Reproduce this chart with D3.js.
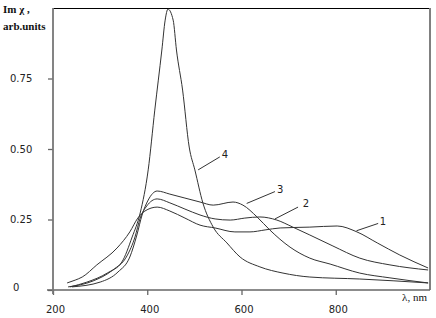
<!DOCTYPE html>
<html>
<head>
<meta charset="utf-8">
<script src="https://cdn.jsdelivr.net/npm/d3@7"></script>
<style>
  body { margin: 0; background: #fff; }
  svg { display: block; }
</style>
</head>
<body>
<div id="chart"></div>
<script>
// wavelengths (nm) and Im chi values
const wl1 = [230, 247, 262, 293, 336, 363, 380, 395, 421, 448, 480, 512, 544, 586, 618, 650, 682, 745, 803, 845, 888, 936, 996];
const im1 = [0.025, 0.035, 0.046, 0.089, 0.149, 0.206, 0.255, 0.280, 0.294, 0.280, 0.255, 0.230, 0.220, 0.206, 0.206, 0.213, 0.220, 0.223, 0.227, 0.206, 0.167, 0.124, 0.078];

const wl2 = [232, 285, 327, 357, 374, 385, 399, 421, 448, 480, 512, 544, 576, 607, 639, 675, 709, 745, 794, 851, 915, 996];
const im2 = [0.011, 0.032, 0.071, 0.121, 0.188, 0.255, 0.298, 0.323, 0.309, 0.287, 0.266, 0.252, 0.248, 0.255, 0.259, 0.248, 0.223, 0.195, 0.156, 0.113, 0.089, 0.071];

const wl3 = [240, 300, 338, 363, 378, 389, 402, 421, 448, 480, 512, 540, 582, 603, 633, 660, 703, 745, 788, 851, 915, 996];
const im3 = [0.011, 0.028, 0.064, 0.117, 0.195, 0.266, 0.319, 0.351, 0.340, 0.326, 0.312, 0.301, 0.312, 0.301, 0.259, 0.213, 0.152, 0.113, 0.092, 0.060, 0.043, 0.025];

const wl4 = [236, 272, 315, 346, 368, 385, 402, 416, 431, 438, 444, 455, 462, 475, 489, 501, 518, 540, 569, 597, 639, 688, 745, 851, 996];
const im4 = [0.011, 0.028, 0.060, 0.099, 0.188, 0.273, 0.426, 0.638, 0.851, 0.957, 0.996, 0.957, 0.851, 0.709, 0.507, 0.426, 0.309, 0.223, 0.167, 0.117, 0.082, 0.060, 0.046, 0.039, 0.025];

const seriesNames = ["1", "2", "3", "4"];
const xTicks = [200, 400, 600, 800];
const yTicks = [0, 0.25, 0.5, 0.75];
const yTickLabels = ["0", "0.25", "0.50", "0.75"];

// curve labels: text baseline point and leader line, in data units
const labelText = ["1", "2", "3", "4"];
const labelAt = [[900, 0.232], [737, 0.293], [682, 0.343], [565, 0.468]];
const leaderFrom = [[844, 0.210], [671, 0.252], [611, 0.307], [508, 0.426]];
const leaderTo = [[890, 0.236], [720, 0.294], [671, 0.349], [554, 0.472]];

const W = 436, H = 318;
const margin = { top: 8, right: 6, bottom: 28, left: 53 };
const width = W - margin.left - margin.right;
const height = H - margin.top - margin.bottom;

const svg = d3.select("#chart")
  .append("svg")
  .attr("width", W)
  .attr("height", H);

const g = svg.append("g")
  .attr("transform", `translate(${margin.left},${margin.top})`);

const x = d3.scaleLinear().domain([200, 1000]).range([0, width]);
const y = d3.scaleLinear().domain([0, 1]).range([height, 0]);

// frame: black top, grey right
g.append("line")
  .attr("x1", 0).attr("x2", width)
  .attr("y1", 0.5).attr("y2", 0.5)
  .attr("stroke", "#000").attr("stroke-width", 1.2);
g.append("line")
  .attr("x1", width).attr("x2", width)
  .attr("y1", 0).attr("y2", height)
  .attr("stroke", "#808080").attr("stroke-width", 2);

// axes
const xAxis = g.append("g")
  .attr("transform", `translate(0,${height})`)
  .call(d3.axisBottom(x).tickValues(xTicks).tickSize(5).tickFormat(d3.format("d")));
const yAxis = g.append("g")
  .call(d3.axisLeft(y).tickValues(yTicks).tickSize(5).tickFormat((d, i) => yTickLabels[i]));

[xAxis, yAxis].forEach(a => {
  a.select(".domain").remove();
  a.selectAll("line").attr("stroke", "#666").attr("stroke-width", 1.3);
  a.selectAll("text")
    .attr("fill", "#222")
    .style("font-family", "'DejaVu Sans', sans-serif")
    .style("font-size", "10px");
});
xAxis.selectAll("text").attr("dy", "1.45em").attr("dx", 2);
yAxis.selectAll("text")
  .attr("text-anchor", "start")
  .attr("x", -43)
  .attr("dy", "0.32em");
yAxis.selectAll(".tick").filter(d => d === 0).select("text").attr("x", -40).attr("dy", "0.05em");

// axis lines
g.append("line")
  .attr("x1", -6).attr("x2", width)
  .attr("y1", height).attr("y2", height)
  .attr("stroke", "#666").attr("stroke-width", 1.5);
g.append("line")
  .attr("x1", 0).attr("x2", 0)
  .attr("y1", 0).attr("y2", height + 4)
  .attr("stroke", "#777").attr("stroke-width", 1.8);

// series
const series = [
  { wl: wl1, im: im1 },
  { wl: wl2, im: im2 },
  { wl: wl3, im: im3 },
  { wl: wl4, im: im4 }
];

const line = d3.line()
  .x(d => x(d[0]))
  .y(d => y(d[1]))
  .curve(d3.curveMonotoneX);

g.selectAll(".curve")
  .data(series)
  .enter()
  .append("path")
  .attr("class", "curve")
  .attr("fill", "none")
  .attr("stroke", "#333")
  .attr("stroke-width", 1)
  .attr("d", s => line(s.wl.map((w, i) => [w, s.im[i]])));

// leader lines and numbers
g.selectAll(".leader")
  .data(seriesNames)
  .enter()
  .append("line")
  .attr("class", "leader")
  .attr("x1", (d, i) => x(leaderFrom[i][0]))
  .attr("y1", (d, i) => y(leaderFrom[i][1]))
  .attr("x2", (d, i) => x(leaderTo[i][0]))
  .attr("y2", (d, i) => y(leaderTo[i][1]))
  .attr("stroke", "#333")
  .attr("stroke-width", 1);

g.selectAll(".clabel")
  .data(seriesNames)
  .enter()
  .append("text")
  .attr("class", "clabel")
  .attr("x", (d, i) => x(labelAt[i][0]))
  .attr("y", (d, i) => y(labelAt[i][1]))
  .attr("text-anchor", "middle")
  .style("font-family", "'DejaVu Sans', sans-serif")
  .style("font-size", "10px")
  .attr("fill", "#222")
  .text((d, i) => labelText[i]);

// axis titles
svg.append("text")
  .attr("x", 3).attr("y", 13)
  .style("font-family", "'Liberation Serif', serif")
  .style("font-size", "11px")
  .style("font-weight", "bold")
  .attr("fill", "#111")
  .text("Im χ ,");
svg.append("text")
  .attr("x", 3).attr("y", 30)
  .style("font-family", "'Liberation Serif', serif")
  .style("font-size", "11px")
  .style("font-weight", "bold")
  .attr("fill", "#111")
  .text("arb.units");
svg.append("text")
  .attr("x", 427).attr("y", 301)
  .attr("text-anchor", "end")
  .style("font-family", "'Liberation Serif', serif")
  .style("font-size", "11px")
  .attr("fill", "#111")
  .text("λ, nm");
</script>
</body>
</html>
